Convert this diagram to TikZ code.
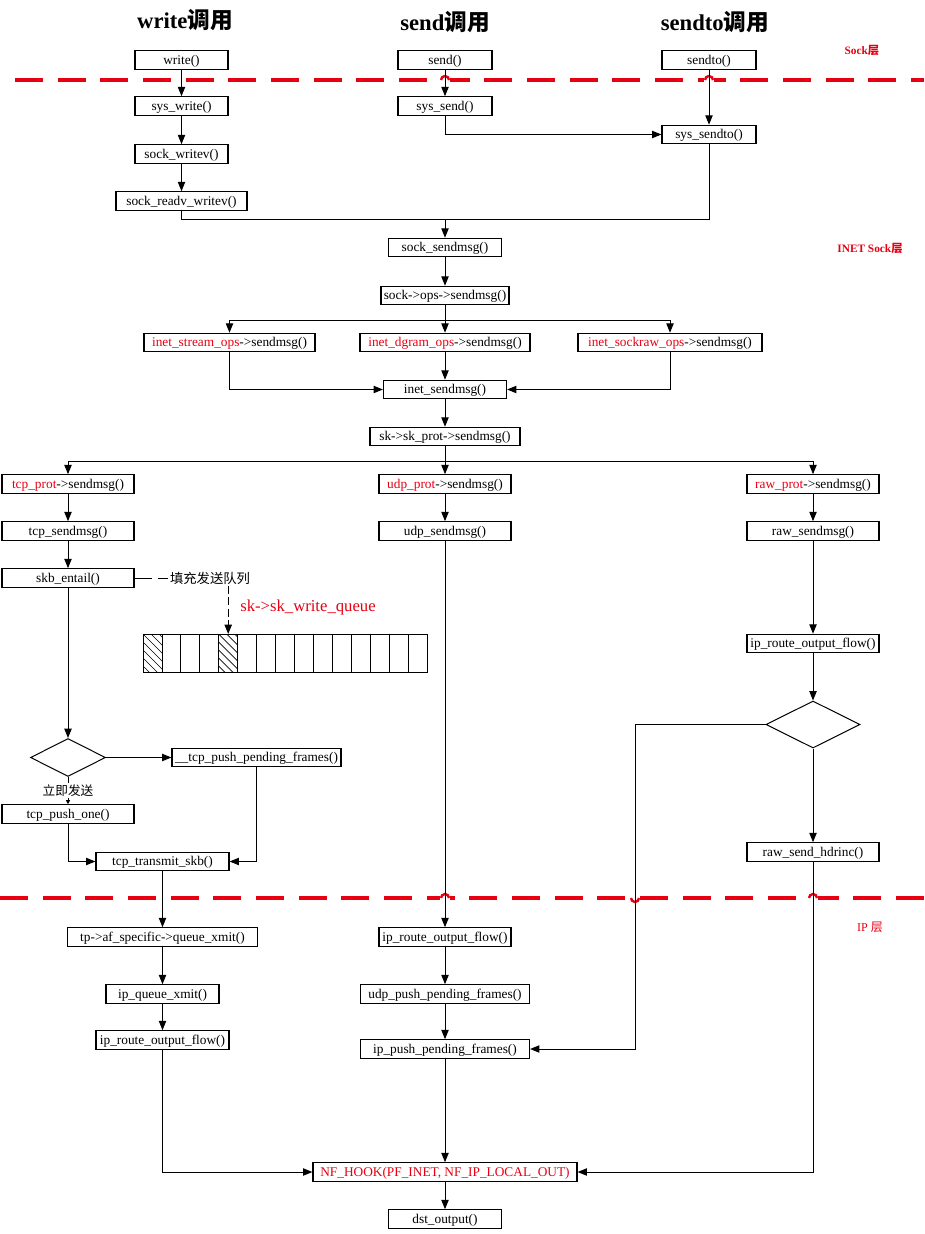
\documentclass[tikz,border=0pt]{standalone}
\usepackage{fontspec}
\setmainfont{Liberation Serif}
\newfontfamily\cjk{Noto Sans CJK SC}
\usetikzlibrary{arrows.meta,shapes.geometric}

\definecolor{layerred}{RGB}{230,0,18}
\newcommand{\rtxt}[1]{\textcolor{layerred}{#1}}
% small hop of the layer line over a connector
\newcommand{\hopup}[2]{\fill[white] (#1-5,#2-3) rectangle (#1+5,#2+3);
  \draw[layerred,line width=1.8pt] (#1-4,#2) arc[start angle=180,end angle=360,radius=4];}
\newcommand{\hopdown}[2]{\fill[white] (#1-5,#2-3) rectangle (#1+5,#2+3);
  \draw[layerred,line width=1.8pt] (#1-4,#2) arc[start angle=180,end angle=0,radius=4];}

\tikzset{every picture/.style={line width=0.75pt}}
\tikzset{
  fbox/.style={draw, line width=0.9pt, inner sep=0pt, minimum height=13.8pt,
    text height=8pt, text depth=1.5pt, font=\fontsize{10}{11}\selectfont},
  boxw/.style={minimum width=#1*0.75pt},
  flow/.style={-{Triangle[length=7pt,width=5.5pt]}},
  layerline/.style={draw=layerred, line width=3pt, dash pattern=on 21pt off 11pt},
  calltitle/.style={font=\fontsize{17}{20}\selectfont\bfseries},
  layerlabel/.style={text=layerred, font=\fontsize{8.5}{10}\selectfont\bfseries},
  decision/.style={draw, diamond, inner sep=0pt},
}

\begin{document}
\begin{tikzpicture}[x=0.75pt,y=0.75pt,yscale=-1,xscale=1]
    \useasboundingbox (0,0) rectangle (924,1234);

    %Layer Lines
    \draw[layerline] (15,80) -- (924,80);
    \draw[layerline] (0,898) -- (924,898);
    \hopup{445}{80}
    \hopup{709}{80}
    \hopup{445}{898}
    \hopdown{635}{898}
    \hopup{813}{898}

    % Text Node
    \node[calltitle] (writetitle) at (185,20) {write{\cjk 调用}};
    \node[calltitle] (sendtitle) at (445,22) {send{\cjk 调用}};
    \node[calltitle] (sendtotitle) at (715,22) {sendto{\cjk 调用}};
    \node[layerlabel] (socklayer) at (862,50) {Sock{\cjk 层}};
    \node[layerlabel] (inetlayer) at (870,248) {INET Sock{\cjk 层}};
    \node[text=layerred, font=\fontsize{9}{10}\selectfont] (iplayer) at (870,927) {IP {\cjk 层}};

    %Sock layer
    \node[fbox,boxw=93] (write) at (181.5,60) {write()};
    \node[fbox,boxw=94] (send) at (445,60) {send()};
    \node[fbox,boxw=94] (sendto) at (709,60) {sendto()};
    \node[fbox,boxw=93] (syswrite) at (181.5,106) {sys\_write()};
    \node[fbox,boxw=94] (syssend) at (445,106) {sys\_send()};
    \node[fbox,boxw=94] (syssendto) at (709,134.5) {sys\_sendto()};
    \node[fbox,boxw=93] (sockwritev) at (181.5,154) {sock\_writev()};
    \node[fbox,boxw=131] (readvwritev) at (181.5,201) {sock\_readv\_writev()};
    \coordinate (join) at (445,219);

    %INET Sock layer
    \node[fbox,boxw=113] (socksendmsg) at (445,247.5) {sock\_sendmsg()};
    \node[fbox,boxw=128] (sockops) at (445,295.5) {sock->ops->sendmsg()};
    \coordinate (opsfork) at (445,320);
    \node[fbox,boxw=171] (inetstream) at (229.5,342.5) {\rtxt{inet\_stream\_ops}->sendmsg()};
    \node[fbox,boxw=170] (inetdgram) at (445,342.5) {\rtxt{inet\_dgram\_ops}->sendmsg()};
    \node[fbox,boxw=184] (inetraw) at (670,342.5) {\rtxt{inet\_sockraw\_ops}->sendmsg()};
    \node[fbox,boxw=123] (inetsendmsg) at (445,389.5) {inet\_sendmsg()};
    \node[fbox,boxw=150] (skprot) at (445,436.5) {sk->sk\_prot->sendmsg()};
    \coordinate (protfork) at (445,461);
    \node[fbox,boxw=132] (tcpprot) at (68,484) {\rtxt{tcp\_prot}->sendmsg()};
    \node[fbox,boxw=132] (udpprot) at (445,484) {\rtxt{udp\_prot}->sendmsg()};
    \node[fbox,boxw=132] (rawprot) at (813,484) {\rtxt{raw\_prot}->sendmsg()};
    \node[fbox,boxw=132] (tcpsendmsg) at (68,531) {tcp\_sendmsg()};
    \node[fbox,boxw=132] (udpsendmsg) at (445,531) {udp\_sendmsg()};
    \node[fbox,boxw=132] (rawsendmsg) at (813,531) {raw\_sendmsg()};
    \node[fbox,boxw=132] (skbentail) at (68,578) {skb\_entail()};
    \node[inner sep=1pt, font=\cjk\fontsize{10}{12}\selectfont] (fillq) at (210,578) {填充发送队列};
    \node[text=layerred, font=\fontsize{12.5}{14}\selectfont] (wqlabel) at (308,607) {sk->sk\_write\_queue};

    %write queue
    \foreach \i in {0,...,14}
        \draw[line width=0.6pt] (143+\i*18.93,634) rectangle ++(18.93,38);
    \foreach \c in {0,4}{
        \begin{scope}
            \clip (143+\c*18.93,634) rectangle ++(18.93,38);
            \foreach \k in {-40,-32,...,16}
                \draw[line width=0.5pt] (143+\c*18.93+\k,634) -- ++(40,40);
        \end{scope}
    }
    \coordinate (slot) at (228.2,634);

    \node[fbox,boxw=132] (iprouteraw) at (813,643.5) {ip\_route\_output\_flow()};
    \node[decision, minimum width=75*0.75pt, minimum height=38*0.75pt] (tcpcheck) at (68,757.5) {};
    \node[fbox,boxw=169] (pushpending) at (256.5,757.5) {\_\_tcp\_push\_pending\_frames()};
    \node[fbox,boxw=132] (pushone) at (68,814) {tcp\_push\_one()};
    \node[fbox,boxw=133] (transmit) at (162.5,861.5) {tcp\_transmit\_skb()};
    \node[decision, minimum width=94*0.75pt, minimum height=47*0.75pt] (rawcheck) at (813,724.5) {};
    \coordinate (rawbend) at (635,724.5);
    \node[fbox,boxw=132] (hdrinc) at (813,852) {raw\_send\_hdrinc()};

    %IP layer
    \node[fbox,boxw=190] (queuexmit) at (162.5,937) {tp->af\_specific->queue\_xmit()};
    \node[fbox,boxw=113] (ipqueuexmit) at (162.5,994) {ip\_queue\_xmit()};
    \node[fbox,boxw=133] (iprouteL) at (162.5,1040) {ip\_route\_output\_flow()};
    \node[fbox,boxw=132] (iprouteM) at (445,937) {ip\_route\_output\_flow()};
    \node[fbox,boxw=169] (udppush) at (445,994) {udp\_push\_pending\_frames()};
    \node[fbox,boxw=169] (ippush) at (445,1049) {ip\_push\_pending\_frames()};
    \node[fbox,boxw=264,text=layerred] (nfhook) at (445,1172) {NF\_HOOK(PF\_INET, NF\_IP\_LOCAL\_OUT)};
    \node[fbox,boxw=113] (dstoutput) at (445,1219) {dst\_output()};

    %Straight Lines
    \draw[flow] (write) -- (syswrite);
    \draw[flow] (syswrite) -- (sockwritev);
    \draw[flow] (sockwritev) -- (readvwritev);
    \draw[flow] (send) -- (syssend);
    \draw[flow] (sendto) -- (syssendto);
    \draw[flow] (syssend) |- (syssendto);
    \draw (readvwritev) |- (join);
    \draw (syssendto) |- (join);
    \draw[flow] (join) -- (socksendmsg);
    \draw[flow] (socksendmsg) -- (sockops);
    \draw[flow] (sockops) -- (inetdgram);
    \draw[flow] (opsfork) -| (inetstream);
    \draw[flow] (opsfork) -| (inetraw);
    \draw[flow] (inetstream) |- (inetsendmsg);
    \draw[flow] (inetraw) |- (inetsendmsg);
    \draw[flow] (inetdgram) -- (inetsendmsg);
    \draw[flow] (inetsendmsg) -- (skprot);
    \draw[flow] (skprot) -- (udpprot);
    \draw[flow] (protfork) -| (tcpprot);
    \draw[flow] (protfork) -| (rawprot);

    %tcp branch
    \draw[flow] (tcpprot) -- (tcpsendmsg);
    \draw[flow] (tcpsendmsg) -- (skbentail);
    \draw[dash pattern=on 12.75pt off 4.5pt] (skbentail) -- (fillq);
    \draw[flow, dash pattern=on 6pt off 2.5pt] (fillq.south -| slot) -- (slot);
    \draw[flow] (skbentail) -- (tcpcheck);
    \draw[flow] (tcpcheck) -- (pushpending);
    \draw[-{Triangle[length=3pt,width=3pt]}] (tcpcheck) -- node[fill=white, inner sep=1pt, font=\cjk\fontsize{9.5}{11}\selectfont] (nowlabel) {立即发送} (pushone);
    \draw[flow] (pushone) |- (transmit);
    \draw[flow] (pushpending) |- (transmit);
    \draw[flow] (transmit) -- (queuexmit);
    \draw[flow] (queuexmit) -- (ipqueuexmit);
    \draw[flow] (ipqueuexmit) -- (iprouteL);
    \draw[flow] (iprouteL) |- (nfhook);

    %udp branch
    \draw[flow] (udpprot) -- (udpsendmsg);
    \draw[flow] (udpsendmsg) -- (iprouteM);
    \draw[flow] (iprouteM) -- (udppush);
    \draw[flow] (udppush) -- (ippush);
    \draw[flow] (ippush) -- (nfhook);
    \draw[flow] (nfhook) -- (dstoutput);

    %raw branch
    \draw[flow] (rawprot) -- (rawsendmsg);
    \draw[flow] (rawsendmsg) -- (iprouteraw);
    \draw[flow] (iprouteraw) -- (rawcheck);
    \draw[flow] (rawcheck) -- (hdrinc);
    \draw[flow] (rawcheck) -- (rawbend) |- (ippush);
    \draw[flow] (hdrinc) |- (nfhook);

\end{tikzpicture}
\end{document}
